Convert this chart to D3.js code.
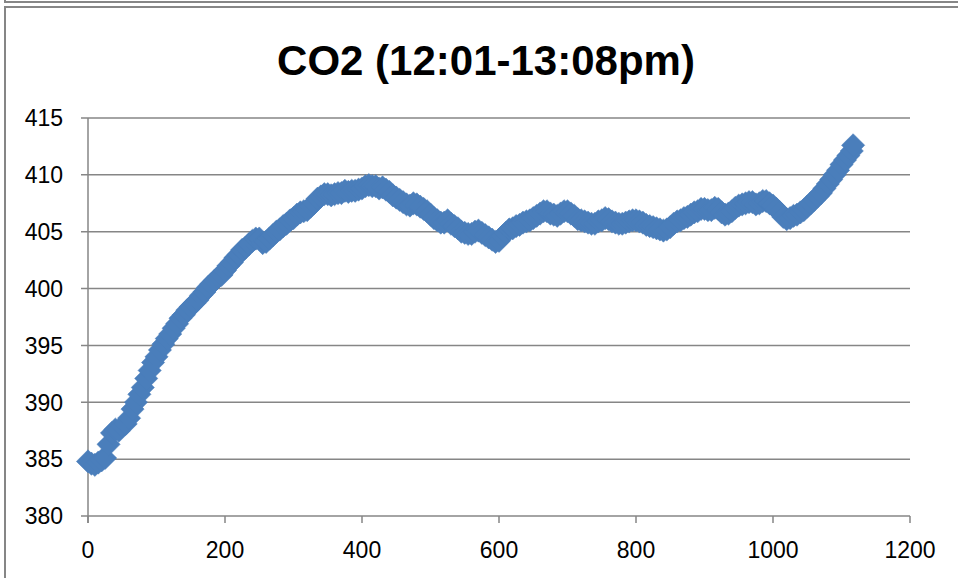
<!DOCTYPE html>
<html>
<head>
<meta charset="utf-8">
<script src="https://cdn.jsdelivr.net/npm/d3@7"></script>
<style>
  html, body { margin: 0; padding: 0; background: #ffffff; }
  svg { display: block; }
</style>
</head>
<body>
<svg id="chart" width="958" height="578"></svg>
<script>
const chartTitle = "CO2 (12:01-13:08pm)";
const xTicks = [0, 200, 400, 600, 800, 1000, 1200];
const yTicks = [380, 385, 390, 395, 400, 405, 410, 415];

const seconds = [
  0, 5, 10, 15, 20, 25, 30, 35, 40, 45, 50, 55, 60, 65, 70, 75, 80, 85, 90, 95,
  100, 105, 110, 115, 120, 125, 130, 135, 140, 145, 150, 155, 160, 165, 170, 175, 180, 185, 190, 195,
  200, 205, 210, 215, 220, 225, 230, 235, 240, 245, 250, 255, 260, 265, 270, 275, 280, 285, 290, 295,
  300, 305, 310, 315, 320, 325, 330, 335, 340, 345, 350, 355, 360, 365, 370, 375, 380, 385, 390, 395,
  400, 405, 410, 415, 420, 425, 430, 435, 440, 445, 450, 455, 460, 465, 470, 475, 480, 485, 490, 495,
  500, 505, 510, 515, 520, 525, 530, 535, 540, 545, 550, 555, 560, 565, 570, 575, 580, 585, 590, 595,
  600, 605, 610, 615, 620, 625, 630, 635, 640, 645, 650, 655, 660, 665, 670, 675, 680, 685, 690, 695,
  700, 705, 710, 715, 720, 725, 730, 735, 740, 745, 750, 755, 760, 765, 770, 775, 780, 785, 790, 795,
  800, 805, 810, 815, 820, 825, 830, 835, 840, 845, 850, 855, 860, 865, 870, 875, 880, 885, 890, 895,
  900, 905, 910, 915, 920, 925, 930, 935, 940, 945, 950, 955, 960, 965, 970, 975, 980, 985, 990, 995,
  1000, 1005, 1010, 1015, 1020, 1025, 1030, 1035, 1040, 1045, 1050, 1055, 1060, 1065, 1070, 1075, 1080, 1085, 1090, 1095,
  1100, 1105, 1110, 1115, 1117
];
const co2 = [
  384.8, 384.6, 384.5, 384.7, 384.9, 385.1, 386.3, 387.3, 387.6, 387.5, 387.9, 388.1, 388.6, 389.4, 390.0, 390.7, 391.3, 392.1, 392.8, 393.5,
  394.0, 394.6, 395.1, 395.6, 396.0, 396.5, 396.9, 397.4, 397.7, 398.1, 398.4, 398.7, 399.0, 399.4, 399.7, 400.1, 400.4, 400.7, 401.0, 401.2,
  401.6, 402.0, 402.3, 402.7, 403.0, 403.4, 403.6, 403.9, 404.2, 404.4, 404.4, 404.0, 404.1, 404.4, 404.7, 405.0, 405.2, 405.5, 405.7, 406.0,
  406.2, 406.5, 406.7, 406.8, 406.9, 407.2, 407.5, 407.9, 408.1, 408.3, 408.3, 408.2, 408.3, 408.4, 408.4, 408.6, 408.5, 408.6, 408.6, 408.7,
  408.8, 409.0, 409.1, 409.0, 409.0, 408.8, 408.9, 408.7, 408.5, 408.2, 408.0, 407.8, 407.6, 407.4, 407.3, 407.5, 407.4, 407.2, 407.0, 406.8,
  406.5, 406.2, 406.0, 405.8, 405.8, 406.0, 405.7, 405.5, 405.3, 405.0, 404.9, 404.8, 404.8, 405.0, 405.1, 404.9, 404.7, 404.5, 404.3, 404.1,
  404.2, 404.6, 404.9, 405.2, 405.3, 405.5, 405.6, 405.8, 405.9, 406.0, 406.2, 406.4, 406.6, 406.8, 406.8, 406.6, 406.5, 406.4, 406.6, 406.8,
  406.8, 406.6, 406.4, 406.1, 406.0, 405.9, 405.8, 405.7, 405.7, 405.9, 406.0, 406.2, 406.1, 405.9, 405.8, 405.7, 405.7, 405.8, 405.9, 406.0,
  406.0, 405.9, 405.8, 405.6, 405.5, 405.4, 405.3, 405.2, 405.1, 405.2, 405.4, 405.7, 405.9, 406.0, 406.2, 406.3, 406.5, 406.7, 406.8, 407.0,
  407.0, 406.9, 406.9, 407.1, 407.0, 406.7, 406.5, 406.6, 406.8, 407.1, 407.3, 407.4, 407.5, 407.6, 407.6, 407.4, 407.5, 407.7, 407.7, 407.5,
  407.3, 407.0, 406.7, 406.3, 406.1, 406.2, 406.4, 406.5, 406.7, 406.9, 407.2, 407.5, 407.8, 408.1, 408.4, 408.8, 409.2, 409.6, 410.0, 410.4,
  410.9, 411.3, 411.7, 412.1, 412.6
];

const data = seconds.map((t, i) => ({ t: t, v: co2[i] }));

const svg = d3.select("#chart");
const gridColor = "#868686";
const font = "'Liberation Sans', Arial, sans-serif";

// outer frames
svg.append("rect")
  .attr("x", 5).attr("y", -20).attr("width", 980).attr("height", 22)
  .attr("fill", "none").attr("stroke", gridColor).attr("stroke-width", 2);
svg.append("rect")
  .attr("x", 5).attr("y", 7).attr("width", 980).attr("height", 600)
  .attr("fill", "#ffffff").attr("stroke", gridColor).attr("stroke-width", 2);

const x = d3.scaleLinear().domain([0, 1200]).range([88, 910]);
const y = d3.scaleLinear().domain([380, 415]).range([516, 118]);

// horizontal gridlines
svg.append("g").selectAll("line").data(yTicks).join("line")
  .attr("x1", 81).attr("x2", 910)
  .attr("y1", d => y(d)).attr("y2", d => y(d))
  .attr("stroke", gridColor).attr("stroke-width", 1.5);

// y axis line
svg.append("line")
  .attr("x1", x(0)).attr("x2", x(0)).attr("y1", y(415)).attr("y2", y(380) + 7)
  .attr("stroke", gridColor).attr("stroke-width", 1.5);

// x ticks
svg.append("g").selectAll("line").data(xTicks).join("line")
  .attr("x1", d => x(d)).attr("x2", d => x(d))
  .attr("y1", y(380)).attr("y2", y(380) + 7)
  .attr("stroke", gridColor).attr("stroke-width", 1.5);

// y labels
svg.append("g").selectAll("text").data(yTicks).join("text")
  .attr("x", 63).attr("y", d => y(d) + 8.3)
  .attr("text-anchor", "end")
  .attr("font-family", font).attr("font-size", 23).attr("fill", "#000")
  .text(d => d);

// x labels
svg.append("g").selectAll("text").data(xTicks).join("text")
  .attr("x", d => x(d)).attr("y", y(380) + 42)
  .attr("text-anchor", "middle")
  .attr("font-family", font).attr("font-size", 23).attr("fill", "#000")
  .text(d => d);

// title
svg.append("text")
  .attr("x", 486).attr("y", 75)
  .attr("text-anchor", "middle")
  .attr("font-family", font).attr("font-size", 42).attr("font-weight", "bold")
  .attr("fill", "#000")
  .text(chartTitle);

// markers (diamonds)
const diamond = d3.symbol().type(d3.symbolSquare).size(270);
svg.append("g").selectAll("path").data(data).join("path")
  .attr("d", diamond)
  .attr("transform", d => `translate(${x(d.t)},${y(d.v)}) rotate(45)`)
  .attr("fill", "#4a7ebb")
  .attr("stroke", "#4a7ebb").attr("stroke-width", 0.5);
</script>
</body>
</html>
